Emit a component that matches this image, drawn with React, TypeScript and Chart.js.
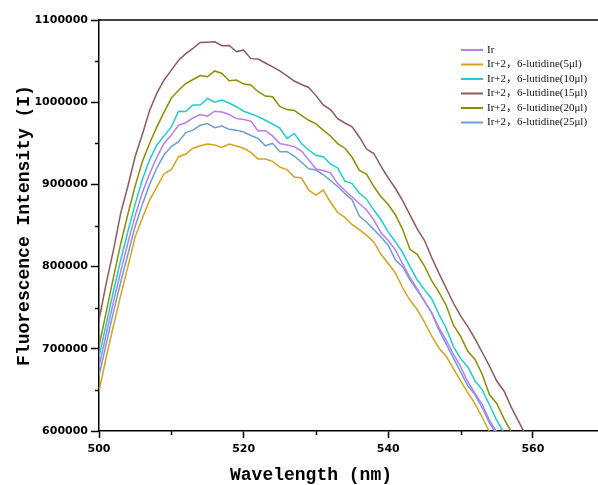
import React, { useEffect, useRef } from "react";
import { Chart, registerables } from "chart.js";

Chart.register(...registerables);

// ---- data ----
const wavelengths = [
  500, 501, 502, 503, 504, 505, 506, 507, 508, 509,
  510, 511, 512, 513, 514, 515, 516, 517, 518, 519,
  520, 521, 522, 523, 524, 525, 526, 527, 528, 529,
  530, 531, 532, 533, 534, 535, 536, 537, 538, 539,
  540, 541, 542, 543, 544, 545, 546, 547, 548, 549,
  550, 551, 552, 553, 554, 555, 556, 557, 558, 559,
];

const seriesLabels = [
  "Ir",
  "Ir+2，6-lutidine(5μl)",
  "Ir+2，6-lutidine(10μl)",
  "Ir+2，6-lutidine(15μl)",
  "Ir+2，6-lutidine(20μl)",
  "Ir+2，6-lutidine(25μl)",
];

const irValues = [
  678000, 718000, 757000, 794000, 829000, 862000, 890000, 913000, 933000, 950000,
  960000, 972000, 975000, 980800, 985000, 983000, 989000, 988000, 985000, 980000,
  979000, 977000, 965000, 965600, 959000, 949700, 948000, 946000, 940600, 930000,
  918700, 917000, 914000, 901000, 892600, 884700, 876700, 868800, 856700, 840900,
  831700, 820000, 803000, 787000, 773000, 758000, 743500, 726000, 710700, 693700,
  678500, 659600, 645600, 632000, 613000, 599000, 583000,
];

const lut5Values = [
  648000, 690000, 728000, 765000, 800000, 836000, 859000, 881000, 897000, 913000,
  918000, 933700, 937000, 944000, 947000, 949000, 948000, 945000, 949000, 946700,
  944000, 939000, 931000, 931000, 928000, 921000, 918000, 909000, 907800, 893000,
  887000, 893000, 878600, 865800, 860000, 851000, 845000, 838000, 830000, 815000,
  803800, 792000, 774000, 759000, 747800, 732600, 715600, 701000, 691000, 676000,
  661000, 646800, 633000, 616400, 599000, 583000,
];

const lut10Values = [
  690000, 730000, 770000, 808000, 843000, 876000, 906000, 930000, 948000, 959000,
  970000, 989000, 988600, 996600, 996600, 1004500, 999900, 1002700, 999000, 994500,
  989000, 986000, 982500, 978000, 973500, 968600, 956000, 962000, 949700, 941800,
  935400, 933700, 924800, 920000, 904000, 901000, 889500, 882000, 868800, 857000,
  842000, 830000, 817000, 800000, 784000, 772000, 761000, 742000, 725000, 703000,
  688000, 678000, 661000, 650000, 631600, 613000, 597600, 580000,
];

const lut15Values = [
  735000, 780000, 820000, 865000, 898000, 934000, 961000, 990000, 1011000, 1027000,
  1039000, 1051000, 1059000, 1065500, 1072600, 1073000, 1073500, 1068700, 1069000, 1061600,
  1063500, 1053000, 1052500, 1047700, 1043000, 1038000, 1032000, 1025800, 1021500, 1017900,
  1008000, 996600, 991000, 980000, 974700, 970000, 957700, 943000, 937600, 921800,
  907800, 895000, 880000, 863000, 846000, 832000, 811000, 792000, 774000, 755700,
  740000, 727000, 712000, 695500, 679000, 660800, 648700, 629000, 612000, 595000,
];

const lut20Values = [
  703000, 745000, 787000, 828000, 864000, 898000, 928000, 950000, 970000, 988000,
  1005000, 1014500, 1022700, 1027600, 1032500, 1031000, 1038000, 1035000, 1026000, 1027000,
  1022000, 1021000, 1012800, 1007500, 1006700, 994800, 991000, 990000, 984000, 978000,
  973700, 966000, 958900, 949700, 944000, 933000, 917000, 912600, 897400, 885000,
  875500, 862800, 845000, 821000, 815000, 800700, 783000, 769000, 753000, 729000,
  715000, 697000, 687000, 668700, 644000, 633500, 615000, 599000, 583000,
];

const lut25Values = [
  667000, 706000, 745000, 781000, 815000, 849000, 876000, 900000, 920000, 936000,
  946000, 952000, 963000, 966000, 972000, 974000, 969000, 971000, 967000, 966000,
  963700, 959500, 956000, 947000, 950000, 939800, 939800, 934500, 927000, 919000,
  917500, 912000, 904700, 897400, 889000, 881000, 861500, 854000, 845000, 836000,
  825700, 808000, 800000, 784000, 771000, 758000, 744000, 723000, 706000, 689000,
  672000, 655000, 644000, 628000, 609700, 596000, 580000,
];

const seriesValues = [irValues, lut5Values, lut10Values, lut15Values, lut20Values, lut25Values];

const xMajorTicks = [500, 520, 540, 560];
const xMinorTicks = [510, 530, 550];
const yMajorTicks = [600000, 700000, 800000, 900000, 1000000, 1100000];
const yMinorTicks = [650000, 750000, 850000, 950000, 1050000];

const xTitle = "Wavelength (nm)";
const yTitle = "Fluorescence Intensity (I)";

// ---- styles ----
const seriesColors = ["#BA7CEE", "#D8A31A", "#1ACFCF", "#8D5A5A", "#8E8C00", "#6C9ED8"];

const decorPlugin = {
  id: "decor",
  afterDraw(chart: any) {
    const ctx = chart.ctx;
    const { left, right, top, bottom } = chart.chartArea;
    const xs = chart.scales.x;
    const ys = chart.scales.y;
    ctx.save();
    ctx.strokeStyle = "#000";
    ctx.lineWidth = 1.5;
    // top frame line
    ctx.beginPath();
    ctx.moveTo(left, top);
    ctx.lineTo(right, top);
    ctx.stroke();
    // minor ticks
    yMinorTicks.forEach((v) => {
      const py = Math.round(ys.getPixelForValue(v)) + 0.5;
      ctx.beginPath();
      ctx.moveTo(left - 4, py);
      ctx.lineTo(left, py);
      ctx.stroke();
    });
    xMinorTicks.forEach((v) => {
      const px = Math.round(xs.getPixelForValue(v)) + 0.5;
      ctx.beginPath();
      ctx.moveTo(px, bottom);
      ctx.lineTo(px, bottom + 4);
      ctx.stroke();
    });
    // axis titles
    ctx.fillStyle = "#000";
    ctx.font = 'bold 18px "Liberation Mono"';
    ctx.textAlign = "center";
    ctx.textBaseline = "middle";
    ctx.fillText(xTitle, 311, 475);
    ctx.save();
    ctx.translate(24, (top + bottom) / 2);
    ctx.rotate(-Math.PI / 2);
    ctx.fillText(yTitle, 0, 0);
    ctx.restore();
    // legend
    ctx.font = '11px "Liberation Serif", "Noto Sans CJK SC"';
    ctx.textAlign = "left";
    chart.data.datasets.forEach((ds: any, i: number) => {
      const ly = 50 + i * 14.5;
      ctx.strokeStyle = ds.borderColor;
      ctx.lineWidth = 2;
      ctx.beginPath();
      ctx.moveTo(461, ly);
      ctx.lineTo(483, ly);
      ctx.stroke();
      ctx.fillStyle = "#111";
      ctx.fillText(ds.label, 487, ly);
    });
    ctx.restore();
  },
};

export default function App() {
  const ref = useRef<HTMLCanvasElement | null>(null);

  useEffect(() => {
    if (!ref.current) return;
    const datasets = seriesValues.map((vals, i) => ({
      label: seriesLabels[i],
      data: vals.map((v, j) => ({ x: wavelengths[j], y: v })),
      borderColor: seriesColors[i],
      backgroundColor: seriesColors[i],
      borderWidth: 1.5,
      pointRadius: 0,
      tension: 0,
      fill: false,
    }));
    const tickFont = { family: "DejaVu Sans", weight: "bold" as const, size: 11 };
    const chart = new Chart(ref.current, {
      type: "line",
      data: { datasets },
      options: {
        responsive: false,
        animation: false,
        maintainAspectRatio: false,
        layout: { padding: { top: 20, right: 0, left: 0, bottom: 0 } },
        plugins: { legend: { display: false }, tooltip: { enabled: false } },
        scales: {
          x: {
            type: "linear",
            min: 500,
            max: 569,
            afterBuildTicks: (s: any) => {
              s.ticks = xMajorTicks.map((v) => ({ value: v }));
            },
            afterFit: (s: any) => {
              s.height = 54;
            },
            grid: { drawOnChartArea: false, drawTicks: true, tickLength: 7, tickColor: "#000", tickWidth: 1.5 },
            border: { display: true, color: "#000", width: 1.5 },
            ticks: {
              color: "#000",
              font: tickFont,
              padding: 5,
              maxRotation: 0,
              autoSkip: false,
              callback: (v: any) => String(v),
            },
          },
          y: {
            type: "linear",
            min: 600000,
            max: 1100000,
            afterBuildTicks: (s: any) => {
              s.ticks = yMajorTicks.map((v) => ({ value: v }));
            },
            afterFit: (s: any) => {
              s.width = 99;
            },
            grid: { drawOnChartArea: false, drawTicks: true, tickLength: 8, tickColor: "#000", tickWidth: 1.5 },
            border: { display: true, color: "#000", width: 1.5 },
            ticks: {
              color: "#000",
              font: tickFont,
              padding: 3,
              autoSkip: false,
              callback: (v: any) => String(v),
            },
          },
        },
      },
      plugins: [decorPlugin],
    } as any);
    return () => chart.destroy();
  }, []);

  return (
    <div style={{ position: "absolute", left: 0, top: 0, width: 598, height: 485, background: "#fff" }}>
      <canvas ref={ref} width={598} height={485} />
    </div>
  );
}
